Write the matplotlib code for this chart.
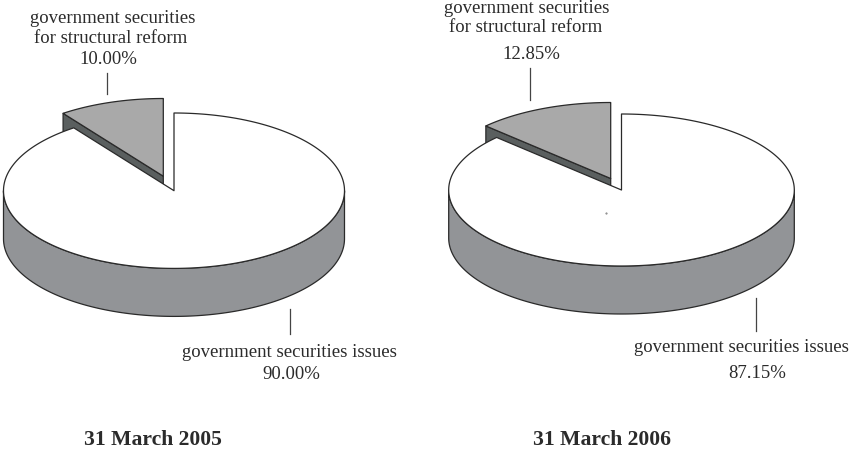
import numpy as np
import matplotlib
matplotlib.use("Agg")
import matplotlib.pyplot as plt
from matplotlib.patches import Polygon

plt.rcParams['font.family'] = ['Liberation Serif', 'DejaVu Serif']

##data
dates = ['31 March 2005', '31 March 2006']
reform_share = [10.00, 12.85]
issues_share = [90.00, 87.15]
reform_label = ['government securities', 'for structural reform']
issues_label = 'government securities issues'

##colours
side_grey = '#929497'
slice_grey = '#a9a9a9'
dark_grey = '#5a5f5f'
edge = '#2a2a2a'
ink = '#2b2b2b'


def rim(cx, cy, rx, ry, a0, a1, n=200):
    ##angle is clockwise from the top of the ellipse, in degrees
    t = np.radians(np.linspace(a0, a1, n))
    return np.column_stack([cx + rx * np.sin(t), cy - ry * np.cos(t)])


def add_poly(ax, pts, color, z):
    ax.add_patch(Polygon(pts, closed=True, facecolor=color, edgecolor=edge, lw=0.9, joinstyle='round', zorder=z))


def draw_pie(ax, cx, cy, rx, ry, depth, shift, reform):
    ang = 360 * reform / 100
    ##exploded slice, its cut face goes under the main top
    sx, sy = cx + shift[0], cy + shift[1]
    end = rim(sx, sy, rx, ry, -ang, -ang)[0]
    add_poly(ax, [(sx, sy), end, (end[0], end[1] + depth), (sx, sy + depth)], dark_grey, 1)
    add_poly(ax, np.vstack([[(sx, sy)], rim(sx, sy, rx, ry, -ang, 0)]), slice_grey, 2)
    ##main side wall (front half only)
    front = rim(cx, cy, rx, ry, 90, 270)
    add_poly(ax, np.vstack([front, front[::-1] + [0, depth]]), side_grey, 3)
    ##main top
    add_poly(ax, np.vstack([[(cx, cy)], rim(cx, cy, rx, ry, 0, 360 - ang, 400)]), 'white', 4)


def label(ax, x, y, s, size=13.5, weight='normal'):
    ax.text(x, y, s, ha='center', va='baseline', fontsize=size, fontweight=weight, color=ink)


fig = plt.figure(figsize=(8.49, 4.49), dpi=100)
ax = fig.add_axes([0, 0, 1, 1])
ax.set_xlim(0, 849)
ax.set_ylim(449, 0)
ax.axis('off')

draw_pie(ax, 174, 190.7, 170.5, 77.7, 48, (-10.7, -14.5), reform_share[0])
draw_pie(ax, 621.5, 190, 172.8, 76, 48, (-10.8, -11.5), reform_share[1])

##leader lines
for x, y0, y1 in [(107, 73, 94), (290, 309, 334), (530, 68, 100), (756, 298, 331)]:
    ax.plot([x, x], [y0, y1], color='#444444', lw=0.9, zorder=5)

##small speck on the right pie
ax.plot([606.5], [213], marker='.', ms=1, color='#777777', zorder=5)

label(ax, 113, 23, reform_label[0])
label(ax, 111, 42.7, reform_label[1])
label(ax, 108, 64, f'{reform_share[0]:.2f}%')
label(ax, 527, 13, reform_label[0])
label(ax, 526, 32, reform_label[1])
label(ax, 531, 59.3, f'{reform_share[1]:.2f}%')
label(ax, 289.5, 356.7, issues_label)
label(ax, 291, 379, f'{issues_share[0]:.2f}%')
label(ax, 741.5, 351.7, issues_label)
label(ax, 757, 378.3, f'{issues_share[1]:.2f}%')
label(ax, 152.5, 445, dates[0], 15.6, 'bold')
label(ax, 602.5, 445, dates[1], 15.6, 'bold')

fig.savefig('out.png', dpi=100)
